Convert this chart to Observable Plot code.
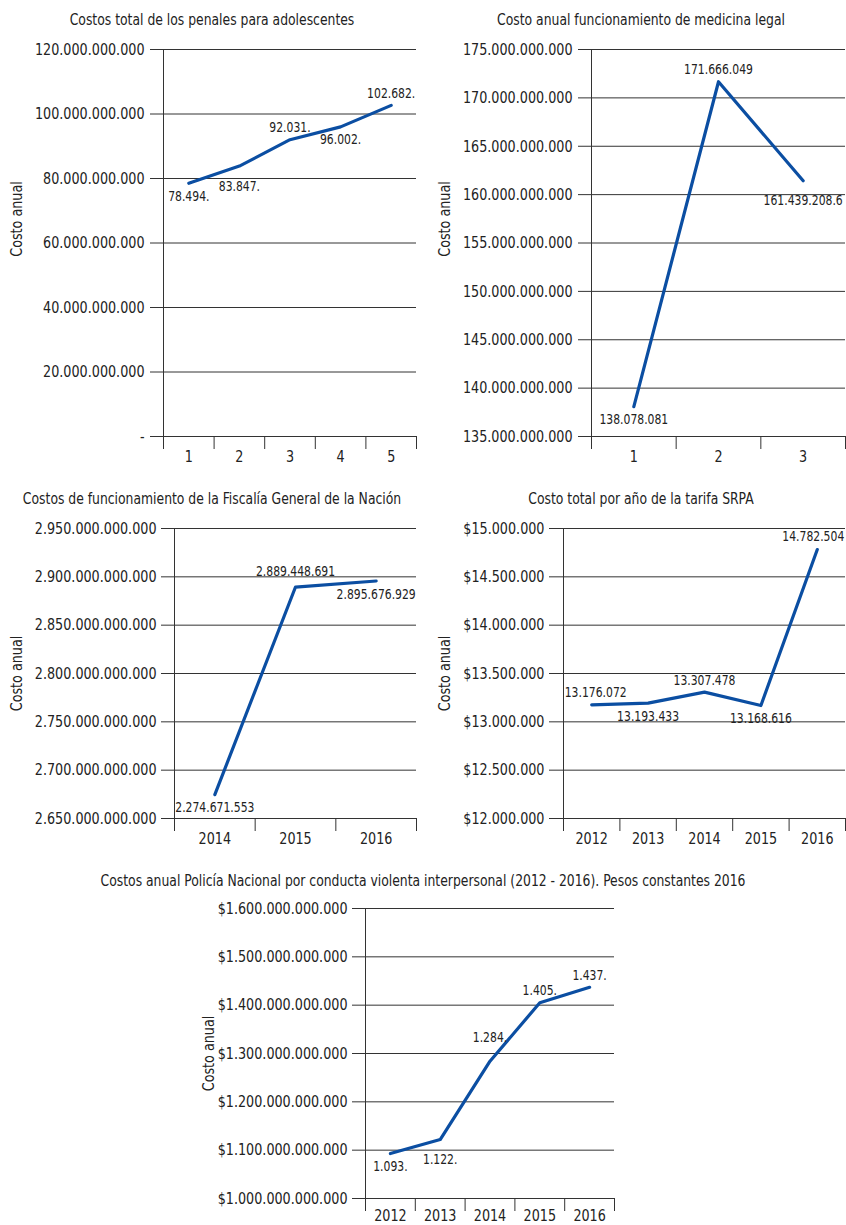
<!DOCTYPE html>
<html><head><meta charset="utf-8">
<script src="https://cdn.jsdelivr.net/npm/d3@7"></script>
<script src="https://cdn.jsdelivr.net/npm/@observablehq/plot@0.6"></script>
<style>
body{margin:0;background:#fff;}
#root{position:relative;width:846px;height:1225px;font-family:"DejaVu Sans Condensed","DejaVu Sans",sans-serif;color:#222;}
.title{position:absolute;transform:translate(-50%,-50%) scaleX(0.86);white-space:nowrap;font-size:16px;}
.chart{position:absolute;}
</style></head><body><div id="root"></div>
<script>
// ---- data ----
const titles = [
  "Costos total de los penales para adolescentes",
  "Costo anual funcionamiento de medicina legal",
  "Costos de funcionamiento de la Fiscalía General de la Nación",
  "Costo total por año de la tarifa SRPA",
  "Costos anual Policía Nacional por conducta violenta interpersonal (2012 - 2016). Pesos constantes 2016"
];
const yLabel = "Costo anual";

const cats1 = ["1","2","3","4","5"];
const vals1 = [78494000000, 83847000000, 92031000000, 96002000000, 102682000000];
const labels1 = ["78.494.","83.847.","92.031.","96.002.","102.682."];
const ticks1 = [0, 20e9, 40e9, 60e9, 80e9, 100e9, 120e9];

const cats2 = ["1","2","3"];
const vals2 = [138078081000, 171666049000, 161439208600];
const labels2 = ["138.078.081","171.666.049","161.439.208.6"];
const ticks2 = [135e9,140e9,145e9,150e9,155e9,160e9,165e9,170e9,175e9];

const cats3 = ["2014","2015","2016"];
const vals3 = [2674671553000, 2889448691000, 2895676929000];
const labels3 = ["2.274.671.553","2.889.448.691","2.895.676.929"];
const ticks3 = [2.65e12,2.70e12,2.75e12,2.80e12,2.85e12,2.90e12,2.95e12];

const cats4 = ["2012","2013","2014","2015","2016"];
const vals4 = [13176072, 13193433, 13307478, 13168616, 14782504];
const labels4 = ["13.176.072","13.193.433","13.307.478","13.168.616","14.782.504"];
const ticks4 = [12e6,12.5e6,13e6,13.5e6,14e6,14.5e6,15e6];

const cats5 = ["2012","2013","2014","2015","2016"];
const vals5 = [1093e9, 1122e9, 1284e9, 1405e9, 1437e9];
const labels5 = ["1.093.","1.122.","1.284.","1.405.","1.437."];
const ticks5 = [1.0e12,1.1e12,1.2e12,1.3e12,1.4e12,1.5e12,1.6e12];

// value-label placement codes (above / below, near / far, nudged left / right)
const place1 = ["b","bb","a","b","a"];
const place2 = ["b","a","bb"];
const place3 = ["b","a2","b"];
const place4 = ["aR","b","a","b","aL"];
const place5 = ["b","bb","aa","a","a"];

// ---- rendering ----
const FONT = '"DejaVu Sans Condensed","DejaVu Sans",sans-serif';
const SQUEEZE = 0.86;
const OFFSETS = {
  a:{dx:0, dy:-12}, a2:{dx:0, dy:-16}, aa:{dx:0, dy:-24},
  aL:{dx:-4, dy:-13}, aR:{dx:4, dy:-12},
  b:{dx:0, dy:13}, bb:{dx:0, dy:20}
};
const locale = d3.formatLocale({decimal:",", thousands:".", grouping:[3], currency:["$",""]});
const fmtNum = v => v === 0 ? "-" : locale.format(",.0f")(v);
const fmtCur = locale.format("$,.0f");
const INK = "#333";
const LINE = "#0b4ea2";
const root = document.getElementById("root");

function addTitle(text, cx, cy){
  const d = document.createElement("div");
  d.className = "title"; d.textContent = text;
  d.style.left = cx + "px"; d.style.top = cy + "px";
  root.appendChild(d);
}

function chart(c){
  const n = c.cats.length;
  const data = c.vals.map((v,i)=>({x:i+1, y:v, label:c.labels[i], p:c.place[i]}));
  const bounds = d3.range(n+1).map(i=>i+0.5);
  const centers = d3.range(1,n+1);
  const labelMarks = Object.entries(OFFSETS).map(([code, o]) =>
    Plot.text(data.filter(d=>d.p===code),{x:"x", y:"y", text:"label", dx:o.dx, dy:o.dy, fontSize:14, fill:"#222"}));
  const plot = Plot.plot({
    width:c.w, height:c.h,
    marginLeft:c.ml, marginRight:c.mr, marginTop:c.mt, marginBottom:c.mb,
    x:{domain:[0.5,n+0.5]},
    y:{domain:[c.ticks[0], c.ticks[c.ticks.length-1]]},
    style:{fontFamily:FONT, fontSize:"16px", color:"#222", background:"transparent", overflow:"visible"},
    marks:[
      Plot.gridY(c.ticks,{stroke:INK, strokeOpacity:1}),
      Plot.axisY(c.ticks,{tickSize:c.ts, tickPadding:c.tp, tickFormat:c.fmt, label:null, stroke:INK, fontSize:16.5}),
      Plot.axisX(bounds,{tickSize:13, tickFormat:()=>"", label:null, stroke:INK}),
      Plot.axisX(centers,{tickSize:0, tickPadding:c.xp, tickFormat:i=>c.cats[i-1], label:null, fontSize:16.5}),
      Plot.ruleX([0.5],{stroke:INK}),
      Plot.line(data,{x:"x", y:"y", stroke:LINE, strokeWidth:3.2}),
      ...labelMarks,
      Plot.text([yLabel],{text:d=>d, frameAnchor:"left", textAnchor:"middle", rotate:-90, lineAnchor:"top", dx:c.ldx, dy:c.ldy, fontSize:16.5, fill:"#222"})
    ]
  });
  // condense glyphs horizontally around each text's own anchor
  plot.querySelectorAll("text").forEach(t => {
    const tr = t.getAttribute("transform");
    if (tr) t.setAttribute("transform", tr + ` scale(${SQUEEZE},1)`);
  });
  const div = document.createElement("div");
  div.className = "chart";
  div.style.left = c.left + "px"; div.style.top = c.top + "px";
  div.style.width = c.w + "px"; div.style.height = c.h + "px";
  div.appendChild(plot);
  root.appendChild(div);
}

addTitle(titles[0], 212, 19);
addTitle(titles[1], 641, 19);
addTitle(titles[2], 212, 498);
addTitle(titles[3], 641, 498);
addTitle(titles[4], 423, 880);

chart({cats:cats1, vals:vals1, labels:labels1, ticks:ticks1, place:place1, fmt:fmtNum,
  left:0, top:30, w:423, h:450, ml:163, mr:7, mt:19, mb:44, ts:13, tp:6, xp:14, ldx:-153, ldy:-24});
chart({cats:cats2, vals:vals2, labels:labels2, ticks:ticks2, place:place2, fmt:fmtNum,
  left:423, top:30, w:423, h:450, ml:168, mr:1, mt:19, mb:44, ts:13, tp:6, xp:14, ldx:-153, ldy:-24});
chart({cats:cats3, vals:vals3, labels:labels3, ticks:ticks3, place:place3, fmt:fmtNum,
  left:0, top:510, w:423, h:340, ml:174, mr:7, mt:18, mb:32, ts:13, tp:5, xp:14, ldx:-164, ldy:0});
chart({cats:cats4, vals:vals4, labels:labels4, ticks:ticks4, place:place4, fmt:fmtCur,
  left:423, top:510, w:423, h:340, ml:140, mr:1, mt:18, mb:32, ts:14, tp:5, xp:14, ldx:-125, ldy:0});
chart({cats:cats5, vals:vals5, labels:labels5, ticks:ticks5, place:place5, fmt:fmtCur,
  left:0, top:890, w:846, h:335, ml:365, mr:232, mt:18, mb:27, ts:13, tp:5, xp:11, ldx:-163, ldy:0});
</script></body></html>
